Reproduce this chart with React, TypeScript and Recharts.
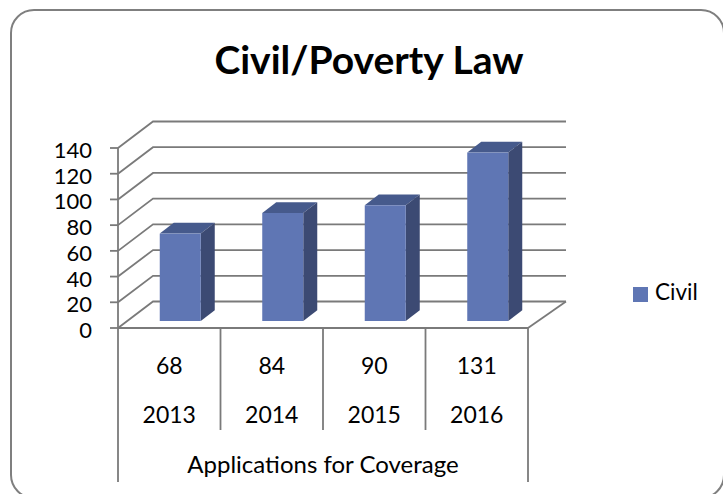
import { BarChart, Bar, XAxis, YAxis, CartesianGrid, Legend, Label } from 'recharts'

const years = ['2013', '2014', '2015', '2016']
const civil = [68, 84, 90, 131]
const yTicks = [0, 20, 40, 60, 80, 100, 120, 140]

const rows = years.map((year, i) => ({ year, civil: civil[i] }))

const W = 723
const H = 494
const PLOT_LEFT = 118
const PLOT_RIGHT = 528
const PLOT_TOP = 148
const PLOT_BOTTOM = 328
const BAND = (PLOT_RIGHT - PLOT_LEFT) / years.length

const FONT = 'Lato, sans-serif'
const GRID = '#7a7a7a'
const LINE = 1.8

// back wall offset of the fake 3d box
const WALL_DX = 35
const WALL_DY = -26.5
const WALL_RIGHT = 566

function WallLine(props: any) {
  const { x1, y1 } = props
  return (
    <g fill="none" stroke={GRID} strokeWidth={LINE}>
      <path d={`M${x1},${y1} L${x1 + WALL_DX},${y1 + WALL_DY} L${WALL_RIGHT},${y1 + WALL_DY}`} />
    </g>
  )
}

function Bar3D(props: any) {
  const { x, y, width, height } = props
  const left = x + 11
  const top = y - 7
  const right = left + width
  const bottom = top + height
  const dx = 14
  const dy = -10.7
  return (
    <g>
      <polygon points={`${left},${top} ${left + dx},${top + dy} ${right + dx},${top + dy} ${right},${top}`} fill="#465a8c" />
      <polygon points={`${right},${top} ${right + dx},${top + dy} ${right + dx},${bottom + dy} ${right},${bottom}`} fill="#3c4a73" />
      <rect x={left} y={top} width={width} height={height} fill="#5f76b4" />
    </g>
  )
}

function TableTick(props: any) {
  const { x, y, index } = props
  const lineLeft = x - BAND / 2
  const lineRight = x + BAND / 2
  const last = index === years.length - 1
  return (
    <g>
      <line x1={lineLeft} x2={lineLeft} y1={y} y2={index === 0 ? 482 : 430} stroke={GRID} strokeWidth={LINE} />
      {last && <line x1={lineRight} x2={lineRight} y1={y} y2={482} stroke={GRID} strokeWidth={LINE} />}
      {last && (
        <path d={`M${lineRight},${y} L${lineRight + (WALL_RIGHT - PLOT_RIGHT)},${y + WALL_DY}`} fill="none" stroke={GRID} strokeWidth={LINE} />
      )}
      <text x={x} y={374} textAnchor="middle" fontFamily={FONT} fontSize={23} fill="#000">
        {civil[index]}
      </text>
      <text x={x} y={423} textAnchor="middle" fontFamily={FONT} fontSize={23} fill="#000">
        {years[index]}
      </text>
    </g>
  )
}

function YTick(props: any) {
  const { x, y, payload } = props
  return (
    <text x={x} y={y + 10} textAnchor="end" fontFamily={FONT} fontSize={22} fill="#000">
      {payload.value}
    </text>
  )
}

export default function App() {
  return (
    <div style={{ position: 'absolute', left: 0, top: 0, width: W, height: H, overflow: 'hidden', background: '#fff' }}>
      <div
        style={{
          position: 'absolute',
          left: 10,
          top: 9,
          width: 715,
          height: 490,
          border: '2px solid #7f7f7f',
          borderRadius: 24,
          boxSizing: 'border-box',
        }}
      />
      <div
        style={{
          position: 'absolute',
          left: 0,
          width: 738,
          top: 35,
          textAlign: 'center',
          fontFamily: FONT,
          fontWeight: 700,
          fontSize: 39,
          lineHeight: '48px',
          color: '#000',
        }}
      >
        Civil/Poverty Law
      </div>
      <BarChart
        width={W}
        height={H}
        data={rows}
        barCategoryGap="30%"
        margin={{ top: PLOT_TOP, right: W - PLOT_RIGHT, bottom: 0, left: 0 }}
        style={{ position: 'absolute', left: 0, top: 0 }}
      >
        <CartesianGrid vertical={false} horizontal={WallLine as any} />
        <XAxis
          dataKey="year"
          height={H - PLOT_BOTTOM}
          interval={0}
          tickLine={false}
          tickSize={0}
          tickMargin={0}
          axisLine={{ stroke: GRID, strokeWidth: LINE }}
          tick={TableTick as any}
        >
          <Label
            value="Applications for Coverage"
            position="insideBottom"
            offset={21}
            fontFamily={FONT}
            fontSize={24}
            fill="#000"
          />
        </XAxis>
        <YAxis
          width={PLOT_LEFT}
          domain={[0, 140]}
          ticks={yTicks}
          interval={0}
          tickSize={8}
          tickMargin={18}
          tickLine={{ stroke: GRID, strokeWidth: LINE }}
          axisLine={{ stroke: GRID, strokeWidth: LINE }}
          tick={YTick as any}
        />
        <Bar dataKey="civil" name="Civil" fill="#5f76b4" shape={Bar3D as any} isAnimationActive={false} legendType="square" />
        <Legend
          layout="vertical"
          align="center"
          verticalAlign="middle"
          iconSize={15}
          wrapperStyle={{ position: 'absolute', left: 633, top: 278, width: 90, fontFamily: FONT, fontSize: 22.5 }}
          formatter={(v: string) => <span style={{ color: '#000', marginLeft: 3 }}>{v}</span>}
        />
      </BarChart>
    </div>
  )
}
